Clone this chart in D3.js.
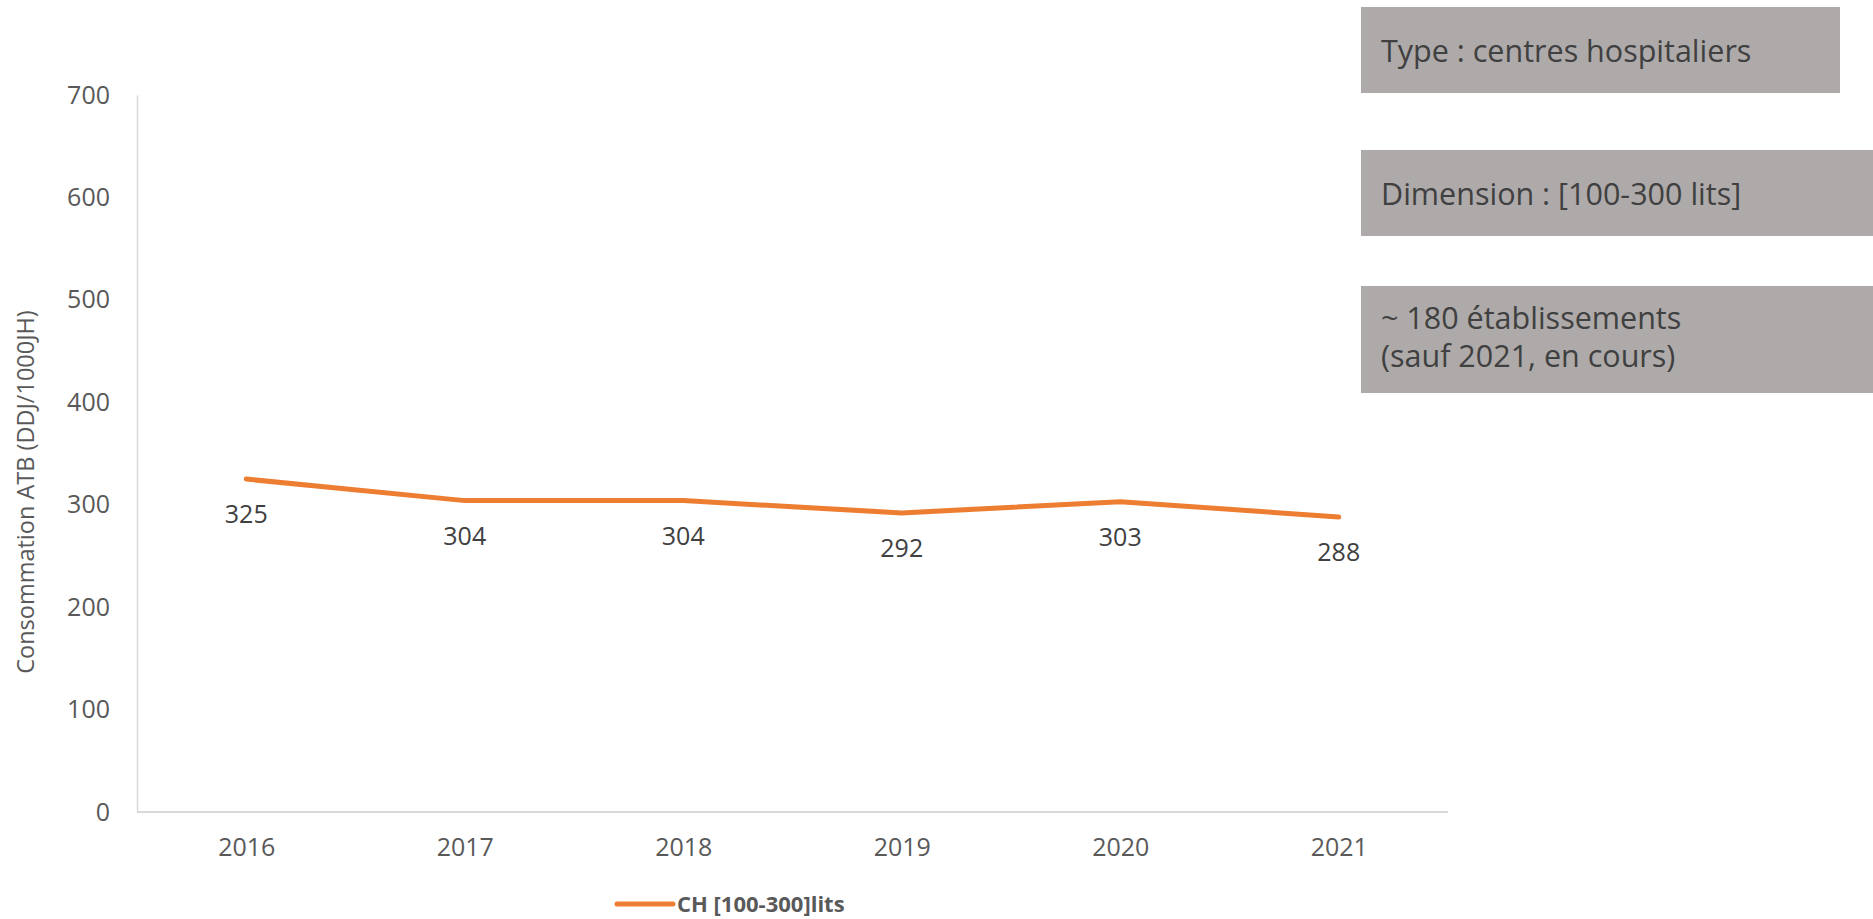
<!DOCTYPE html>
<html>
<head>
<meta charset="utf-8">
<script src="https://cdn.jsdelivr.net/npm/d3@7"></script>
<style>
  body { margin: 0; background: #fff; }
  svg { display: block; font-family: "Open Sans", sans-serif; }
</style>
</head>
<body>
<svg id="chart" width="1873" height="919"></svg>
<script>
/* data */
var years = ["2016", "2017", "2018", "2019", "2020", "2021"];
var conso = [325, 304, 304, 292, 303, 288];
var yTicks = [0, 100, 200, 300, 400, 500, 600, 700];
var seriesName = "CH [100-300]lits";
var yTitle = "Consommation ATB (DDJ/1000JH)";
var boxTexts = [
    ["Type : centres hospitaliers"],
    ["Dimension : [100-300 lits]"],
    ["~ 180 établissements", "(sauf 2021, en cours)"]
];

var svg = d3.select("#chart");
var plotL = 137, plotR = 1448, plotT = 95, plotB = 812;
var orange = "#ED7D31", axisGrey = "#D9D9D9", tickGrey = "#595959";

var x = d3.scalePoint().domain(years).range([plotL, plotR]).padding(0.5);
var y = d3.scaleLinear().domain([0, 700]).range([plotB, plotT]);

/* y axis */
var yAxis = svg.append("g")
    .attr("transform", "translate(" + plotL + ",0)")
    .call(d3.axisLeft(y).tickValues(yTicks).tickSize(0).tickPadding(27));
yAxis.select(".domain").attr("stroke", axisGrey).attr("stroke-width", 1.5);
yAxis.selectAll("text")
    .attr("fill", tickGrey)
    .style("font-size", "25px")
    .style("font-family", "Open Sans");

/* x axis */
var xAxis = svg.append("g")
    .attr("transform", "translate(0," + plotB + ")")
    .call(d3.axisBottom(x).tickSize(0).tickPadding(26));
xAxis.select(".domain")
    .attr("stroke", axisGrey).attr("stroke-width", 2)
    .attr("d", "M" + plotL + ",0H" + plotR);
xAxis.selectAll("text")
    .attr("fill", tickGrey)
    .style("font-size", "25px")
    .style("font-family", "Open Sans");

/* axis title */
svg.append("text")
    .attr("transform", "translate(34,492) rotate(-90)")
    .attr("text-anchor", "middle")
    .attr("fill", tickGrey)
    .style("font-size", "23.5px")
    .text(yTitle);

/* the line */
var pts = years.map(function(d, i){ return {year: d, v: conso[i]}; });
var line = d3.line()
    .x(function(d){ return x(d.year); })
    .y(function(d){ return y(d.v); });

svg.append("path")
    .datum(pts)
    .attr("d", line)
    .attr("fill", "none")
    .attr("stroke", orange)
    .attr("stroke-width", 5)
    .attr("stroke-linecap", "round")
    .attr("stroke-linejoin", "round");

/* data labels below each point */
svg.append("g").selectAll("text")
    .data(pts)
    .enter().append("text")
    .attr("x", function(d){ return x(d.year); })
    .attr("y", function(d){ return y(d.v) + 44; })
    .attr("text-anchor", "middle")
    .attr("fill", "#404040")
    .style("font-size", "25px")
    .text(function(d){ return d.v; });

/* legend */
var lg = svg.append("g").attr("transform", "translate(617,904)");
lg.append("line")
    .attr("x1", 0).attr("x2", 56)
    .attr("stroke", orange).attr("stroke-width", 5)
    .attr("stroke-linecap", "round");
lg.append("text")
    .attr("x", 60).attr("y", 8)
    .attr("fill", tickGrey)
    .style("font-size", "22px")
    .style("font-weight", "bold")
    .text(seriesName);

/* grey info boxes on the right */
var boxes = [
    {x: 1361, y: 7, w: 479, h: 86, base: [62]},
    {x: 1361, y: 150, w: 512, h: 86, base: [205]},
    {x: 1361, y: 286, w: 512, h: 107, base: [329, 367]}
];
var bg = svg.append("g").selectAll("g")
    .data(boxes)
    .enter().append("g");
bg.append("rect")
    .attr("x", function(d){ return d.x; })
    .attr("y", function(d){ return d.y; })
    .attr("width", function(d){ return d.w; })
    .attr("height", function(d){ return d.h; })
    .attr("fill", "#AEAAAA");
bg.each(function(d, i){
    var g = d3.select(this);
    boxTexts[i].forEach(function(t, j){
        g.append("text")
            .attr("x", d.x + 20)
            .attr("y", d.base[j])
            .attr("fill", "#404040")
            .style("font-size", "30.5px")
            .text(t);
    });
});
</script>
</body>
</html>
